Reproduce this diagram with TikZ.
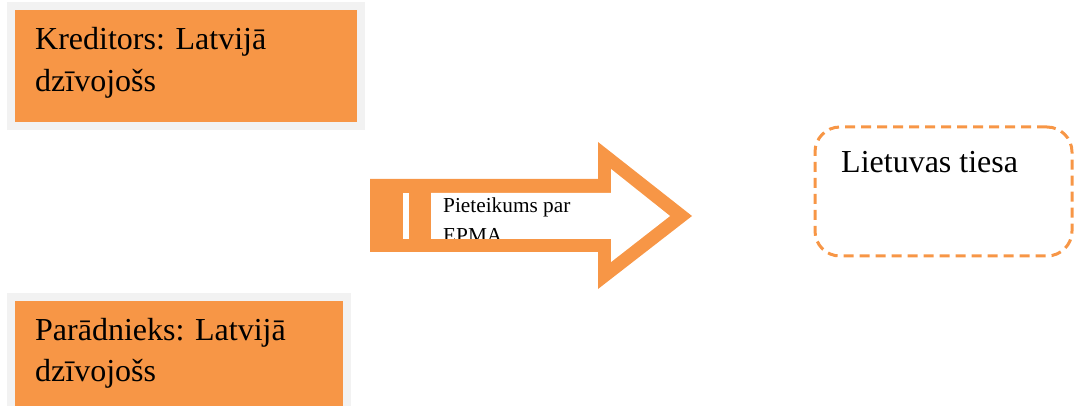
\documentclass[tikz,border=0pt]{standalone}
\usepackage{fontspec}
\setmainfont{Liberation Serif}
\definecolor{accent}{HTML}{F79646}
\definecolor{framegray}{HTML}{F2F2F2}
\tikzset{
  partybox/.style={draw=framegray, line width=8pt, fill=accent, inner sep=0pt, outer sep=0pt, anchor=north west},
  bigtext/.style={inner sep=0pt, anchor=base west, font=\fontsize{32}{42}\selectfont, text=black},
  smalltext/.style={inner sep=0pt, anchor=base west, font=\fontsize{21.3}{25}\selectfont, text=black},
  courtbox/.style={draw=accent, line width=3pt, dash pattern=on 10pt off 6pt, rounded corners=25pt, inner sep=0pt, outer sep=0pt, anchor=north west},
}
\begin{document}
\begin{tikzpicture}[x=1pt,y=-1pt]
\useasboundingbox (0,0) rectangle (1074,406);
\clip (0,0) rectangle (1074,406);
% creditor box
\node[partybox, minimum width=350pt, minimum height=120pt] (kred) at (11,6) {};
\node[bigtext] (kred1) at (35,50) {Kreditors: Latvijā};
\node[bigtext] (kred2) at (35,92) {dzīvojošs};
% debtor box
\node[partybox, minimum width=336pt, minimum height=124pt] (par) at (11,297) {};
\node[bigtext] (par1) at (35,340) {Parādnieks: Latvijā};
\node[bigtext] (par2) at (35,381) {dzīvojošs};
% court box
\node[courtbox, minimum width=257pt, minimum height=129pt] (lt) at (815,127) {};
\node[bigtext] (lt1) at (841,173) {Lietuvas tiesa};
% arrow
\fill[accent] (370,179) -- (598,179) -- (598,142) -- (692,216) -- (598,289) -- (598,252) -- (370,252) -- cycle;
\fill[white] (431,193) -- (611,193) -- (611,169) -- (670,216) -- (611,262) -- (611,239) -- (431,239) -- cycle;
\fill[white] (403,193) rectangle (409,239);
\begin{scope}
\clip (431,193) rectangle (611,239);
\node[smalltext] (arr1) at (443,213) {Pieteikums par};
\node[smalltext] (arr2) at (443,243) {EPMA};
\end{scope}
\end{tikzpicture}
\end{document}
